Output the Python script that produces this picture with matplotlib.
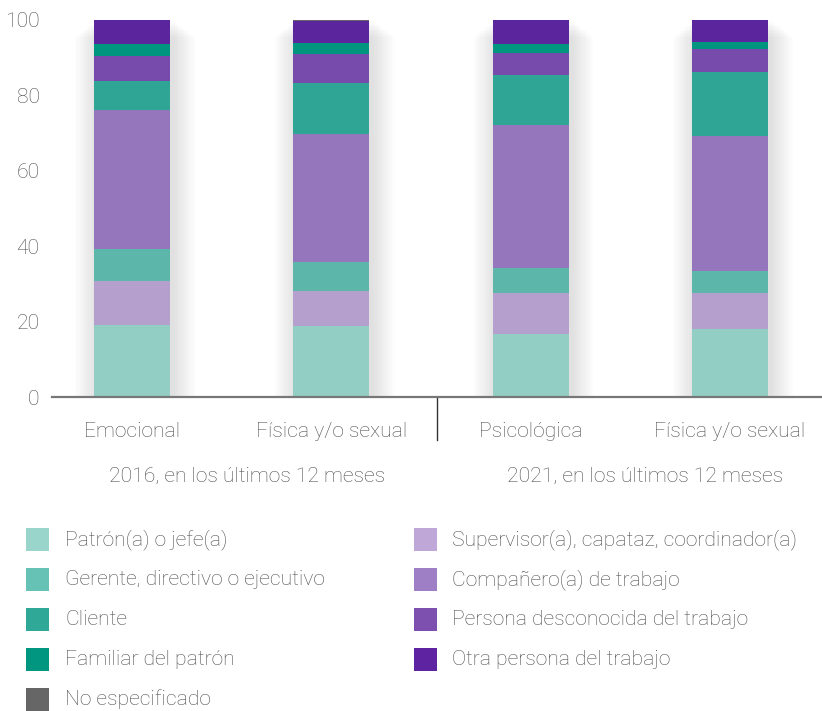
import matplotlib
matplotlib.use("Agg")
import matplotlib.pyplot as plt
import matplotlib.transforms as mtransforms
from matplotlib.patches import Rectangle
import numpy as np

plt.rcParams['font.family'] = ['Roboto', 'DejaVu Sans']
plt.rcParams['font.weight'] = 'light'

categories = ["Emocional", "Física y/o sexual", "Psicológica", "Física y/o sexual"]
groups = ["2016, en los últimos 12 meses", "2021, en los últimos 12 meses"]

series_names = [
    "Patrón(a) o jefe(a)",
    "Supervisor(a), capataz, coordinador(a)",
    "Gerente, directivo o ejecutivo",
    "Compañero(a) de trabajo",
    "Cliente",
    "Persona desconocida del trabajo",
    "Familiar del patrón",
    "Otra persona del trabajo",
    "No especificado",
]
patron = [19.2, 18.9, 16.7, 18.1]
supervisor = [11.6, 9.2, 11.0, 9.4]
gerente = [8.4, 7.7, 6.6, 5.8]
companero = [36.8, 34.0, 37.7, 35.9]
cliente = [7.7, 13.3, 13.3, 16.9]
desconocida = [6.7, 7.8, 5.8, 6.0]
familiar = [3.1, 2.8, 2.4, 1.9]
otra = [6.5, 5.8, 6.5, 6.0]
no_especificado = [0.0, 0.5, 0.0, 0.0]
values = [patron, supervisor, gerente, companero, cliente, desconocida, familiar, otra, no_especificado]

bar_colors = ["#93cec5", "#b59fcd", "#5cb6aa", "#9575bb", "#2fa595", "#774bab", "#00957f", "#5b269d", "#666666"]
legend_colors = ["#9ad5cb", "#bfa8d8", "#66c2b4", "#9e7ec4", "#30a898", "#7d50b0", "#00967f", "#5e23a0", "#666666"]

TXT = "#4f4f4f"
FS = 15.2

W, H = 822, 711
fig = plt.figure(figsize=(W / 100, H / 100), dpi=100)
ax = fig.add_axes([52 / W, 1 - 397.3 / H, (W - 52) / W, (397.3 - 19.5) / H])

x = np.arange(len(categories))
width = 0.38

# soft shadow behind bars
totals = np.sum(np.array(values), axis=0)
for k in range(1, 11):
    ax.bar(x + 0.015, totals + 0.25 * k, width=width + 0.022 * k, bottom=-0.7 * k,
           color="black", alpha=0.011, zorder=1, linewidth=0)

bottom = np.zeros(len(categories))
for vals, col in zip(values, bar_colors):
    ax.bar(x, vals, width=width, bottom=bottom, color=col, zorder=3, linewidth=0)
    bottom += np.array(vals)

ax.set_xlim((52 - 132) / 199.33, (822 - 132) / 199.33)
ax.set_ylim(0, 100)
ax.set_yticks([0, 20, 40, 60, 80, 100])
ax.set_yticklabels(["0", "20", "40", "60", "80", "100"])
ax.set_xticks(x)
ax.set_xticklabels(categories)
ax.tick_params(axis='y', length=0, pad=9, labelsize=FS, labelcolor=TXT)
ax.tick_params(axis='x', length=0, pad=18, labelsize=FS, labelcolor=TXT)
for s in ["top", "right", "left"]:
    ax.spines[s].set_visible(False)
ax.spines["bottom"].set_color("#777777")
ax.spines["bottom"].set_linewidth(1.6)
ax.spines["bottom"].set_zorder(5)

# group separator
trans = mtransforms.blended_transform_factory(ax.transData, ax.transAxes)
ax.plot([1.53, 1.53], [0, -(440 - 397.3) / (397.3 - 19.5)], transform=trans,
        color="#333333", lw=1.0, clip_on=False)

# group labels
fig.text(247 / W, 1 - 476 / H, groups[0], ha="center", va="center", fontsize=FS, color=TXT)
fig.text(645 / W, 1 - 476 / H, groups[1], ha="center", va="center", fontsize=FS, color=TXT)

# legend (manual, two columns)
col1 = [0, 2, 4, 6, 8]
col2 = [1, 3, 5, 7]
rows_y = [539.5, 579.5, 619.5, 659.5, 699.5]
for idxs, sq_x, tx in [(col1, 26, 65), (col2, 414, 452)]:
    for r, i in enumerate(idxs):
        cy = rows_y[r]
        fig.patches.append(Rectangle((sq_x / W, 1 - (cy + 11.5) / H), 23 / W, 23 / H,
                                     transform=fig.transFigure, color=legend_colors[i], linewidth=0))
        fig.text(tx / W, 1 - cy / H, series_names[i], ha="left", va="center",
                 fontsize=FS, color=TXT)

fig.savefig("out.png", dpi=100)
